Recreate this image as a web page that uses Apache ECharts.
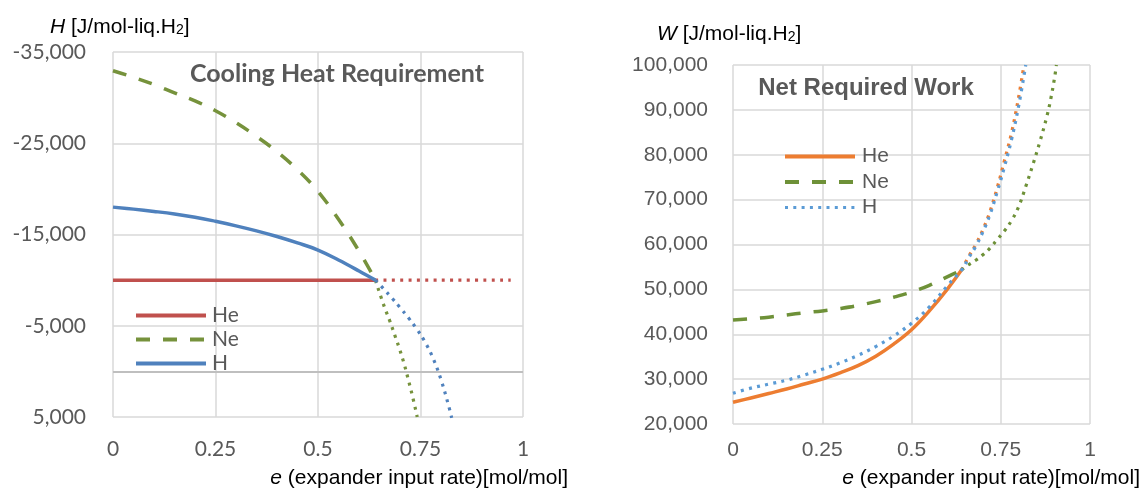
<!DOCTYPE html>
<html>
<head>
<meta charset="utf-8">
<script src="https://cdn.jsdelivr.net/npm/echarts@6/dist/echarts.min.js"></script>
<style>
html,body{margin:0;padding:0;background:#fff;}
#c{width:1142px;height:496px;}
</style>
</head>
<body>
<div id="c"></div>
<script>
// ---------- Left panel: Cooling Heat Requirement H [J/mol-liq.H2] ----------
const eCool   = [0, 0.05, 0.1, 0.15, 0.2, 0.25, 0.3, 0.35, 0.4, 0.45, 0.5, 0.55, 0.6, 0.64];
const heCool  = [-10000, -10000, -10000, -10000, -10000, -10000, -10000, -10000, -10000, -10000, -10000, -10000, -10000, -10000];
const neCool  = [-32950, -32230, -31430, -30510, -29640, -28570, -27250, -25750, -24080, -22100, -19720, -16670, -13180, -10000];
const hCool   = [-18000, -17780, -17530, -17250, -16900, -16450, -15950, -15400, -14780, -14080, -13300, -12200, -11000, -10000];
const eHeCoolExt = [0.64, 0.8, 0.97];
const heCoolExt  = [-10000, -10000, -10000];
const eNeCoolExt = [0.64, 0.661, 0.675, 0.689, 0.699, 0.711, 0.721, 0.731, 0.742];
const neCoolExt  = [-10000, -7180, -5540, -3750, -2440, -680, 1040, 2820, 5000];
const eHCoolExt  = [0.64, 0.66, 0.68, 0.70, 0.72, 0.74, 0.76, 0.78, 0.80, 0.82, 0.826];
const hCoolExt   = [-10000, -9050, -8050, -7000, -5900, -4700, -3300, -1500, 900, 4000, 5100];

// ---------- Right panel: Net Required Work W [J/mol-liq.H2] ----------
const eWork   = [0, 0.05, 0.1, 0.15, 0.2, 0.25, 0.3, 0.35, 0.4, 0.45, 0.5, 0.55, 0.6, 0.64];
const heWork  = [24850, 25800, 26800, 27800, 28900, 30000, 31400, 33000, 35100, 37800, 41000, 45200, 50000, 54300];
const neWork  = [43200, 43450, 43800, 44300, 44780, 45200, 45740, 46400, 47280, 48250, 49400, 50900, 52800, 54300];
const eHeWorkExt = [0.64, 0.66, 0.68, 0.70, 0.72, 0.74, 0.76, 0.78, 0.80, 0.815];
const heWorkExt  = [54300, 57300, 60000, 63300, 67400, 72600, 78600, 84800, 92800, 100000];
const eNeWorkExt = [0.64, 0.66, 0.68, 0.70, 0.72, 0.74, 0.76, 0.78, 0.80, 0.82, 0.84, 0.86, 0.88, 0.89, 0.90, 0.906];
const neWorkExt  = [54300, 55500, 56500, 57700, 59200, 61100, 63000, 65300, 68400, 72900, 77800, 83000, 88800, 92400, 96800, 100000];
const eHWork  = [0, 0.05, 0.1, 0.15, 0.2, 0.25, 0.3, 0.35, 0.4, 0.45, 0.5, 0.55, 0.6, 0.64, 0.66, 0.68, 0.70, 0.72, 0.74, 0.76, 0.78, 0.80, 0.82];
const hWork   = [26850, 27990, 28880, 29760, 30920, 32180, 33620, 35290, 37260, 39590, 42440, 46090, 50770, 54300, 57000, 59600, 62800, 66700, 71700, 77200, 83300, 90800, 100000];

// ---------- styling ----------
const GRID = '#d9d9d9';
const TXT = '#595959';
const C_RED = '#C0504D', C_GRN = '#76923C', C_BLU = '#4F81BD';
const C_ORG = '#ED7D31', C_GRN2 = '#6E9138', C_BLU2 = '#5B9BD5';
const DASH = [14, 13];
const DOT = [3, 5.3];

const zip = (xs, ys) => xs.map((x, i) => [x, ys[i]]);
function line(name, gi, xs, ys, color, width, type, extra) {
  return Object.assign({
    name: name, type: 'line', xAxisIndex: gi, yAxisIndex: gi,
    data: zip(xs, ys), symbol: 'none', smooth: 0.4,
    color: color, itemStyle: {color: color},
    lineStyle: {color: color, width: width, type: type, cap: 'butt', join: 'round'}
  }, extra || {});
}

const chart = echarts.init(document.getElementById('c'), null, {renderer: 'canvas'});

function xAxisCfg(gi, family, margin) {
  return {
    gridIndex: gi, type: 'value', min: 0, max: 1, interval: 0.25,
    axisLine: {show: false}, axisTick: {show: false},
    splitLine: {show: true, lineStyle: {color: GRID, width: 1.5}},
    axisLabel: {color: TXT, fontFamily: family, fontSize: 21, margin: margin, formatter: v => String(v)}
  };
}
function yAxisCfg(gi, family, min, max, inverse, margin) {
  return {
    gridIndex: gi, type: 'value', min: min, max: max, interval: 10000, inverse: inverse,
    axisLine: {show: false}, axisTick: {show: false},
    splitLine: {show: true, lineStyle: {color: GRID, width: 1.5}},
    axisLabel: {color: TXT, fontFamily: family, fontSize: 21, margin: margin,
      formatter: v => Number(v).toLocaleString('en-US')}
  };
}

function axisTitle(x, y, sym, rest, sub, tail, align) {
  const fam = '"Liberation Sans", Arial, sans-serif';
  return {
    type: 'text', x: x, y: y, z: 10,
    style: {
      text: '{i|' + sym + '}{n|' + rest + '}' + (sub ? '{s|' + sub + '}' : '') + (tail ? '{n|' + tail + '}' : ''),
      align: align, verticalAlign: 'middle',
      rich: {
        i: {fontStyle: 'italic', fontSize: 21, fontFamily: fam, fill: '#000', lineHeight: 24},
        n: {fontSize: 21, fontFamily: fam, fill: '#000', lineHeight: 24},
        s: {fontSize: 14, fontFamily: fam, fill: '#000', lineHeight: 24, verticalAlign: 'bottom', padding: [0, 0, 2, 0]}
      }
    }
  };
}

const legendCommon = {
  orient: 'vertical', itemWidth: 70, itemHeight: 20, padding: 0,
  formatter: n => n.split('_')[0],
  itemStyle: {opacity: 0, borderWidth: 0},
  selectedMode: false
};

const option = {
  animation: false,
  backgroundColor: '#ffffff',
  grid: [
    {left: 113, top: 52, width: 410, height: 365},
    {left: 733, top: 65, width: 357, height: 359}
  ],
  xAxis: [xAxisCfg(0, 'Lato', 22), xAxisCfg(1, '"Liberation Sans"', 16)],
  yAxis: [
    yAxisCfg(0, 'Lato', -35000, 5000, true, 27),
    yAxisCfg(1, '"Liberation Sans"', 20000, 100000, false, 25)
  ],
  legend: [
    Object.assign({}, legendCommon, {
      left: 134, top: 305, itemGap: 3,
      data: [
        {name: 'He_H', lineStyle: {width: 4}},
        {name: 'Ne_H', lineStyle: {width: 4}},
        {name: 'H_H', lineStyle: {width: 4}}
      ],
      textStyle: {color: TXT, fontFamily: 'Lato', fontSize: 21, lineHeight: 20, padding: [0, 0, 0, 1]}
    }),
    Object.assign({}, legendCommon, {
      left: 783, top: 146, itemGap: 4.5,
      data: [
        {name: 'He_W', lineStyle: {width: 4}},
        {name: 'Ne_W', lineStyle: {width: 4}},
        {name: 'H_W', lineStyle: {width: 3.2}}
      ],
      textStyle: {color: TXT, fontFamily: '"Liberation Sans"', fontSize: 21, lineHeight: 20, padding: [0, 0, 0, 2]}
    })
  ],
  graphic: [
    axisTitle(50, 27, 'H', ' [J/mol-liq.H', '2', ']', 'left'),
    axisTitle(657, 34, 'W', ' [J/mol-liq.H', '2', ']', 'left'),
    axisTitle(568, 478, 'e', ' (expander input rate)[mol/mol]', '', '', 'right'),
    axisTitle(1140, 478, 'e', ' (expander input rate)[mol/mol]', '', '', 'right'),
    {type: 'text', x: 337, y: 74, z: 10, style: {text: 'Cooling Heat Requirement', font: 'bold 25px Lato', fill: TXT, align: 'center', verticalAlign: 'middle'}},
    {type: 'text', x: 866, y: 88, z: 10, style: {text: 'Net Required Work', font: 'bold 24px "Liberation Sans"', fill: TXT, align: 'center', verticalAlign: 'middle'}}
  ],
  series: [
    line('He_H', 0, eCool, heCool, C_RED, 3.5, 'solid', {
      markLine: {silent: true, symbol: 'none', label: {show: false},
        lineStyle: {color: '#bfbfbf', width: 2, type: 'solid'}, data: [{yAxis: 0}], z: 1}
    }),
    line('He_Hx', 0, eHeCoolExt, heCoolExt, C_RED, 3.2, DOT),
    line('Ne_H', 0, eCool, neCool, C_GRN, 3.5, DASH),
    line('Ne_Hx', 0, eNeCoolExt, neCoolExt, C_GRN, 3.2, DOT),
    line('H_H', 0, eCool, hCool, C_BLU, 3.5, 'solid'),
    line('H_Hx', 0, eHCoolExt, hCoolExt, C_BLU, 3.2, DOT),

    line('He_W', 1, eWork, heWork, C_ORG, 3.5, 'solid'),
    line('He_Wx', 1, eHeWorkExt, heWorkExt, C_ORG, 3.2, DOT),
    line('Ne_W', 1, eWork, neWork, C_GRN2, 3.5, DASH),
    line('Ne_Wx', 1, eNeWorkExt, neWorkExt, C_GRN2, 3.2, DOT),
    line('H_W', 1, eHWork, hWork, C_BLU2, 3.2, DOT)
  ]
};
chart.setOption(option);
</script>
</body>
</html>
